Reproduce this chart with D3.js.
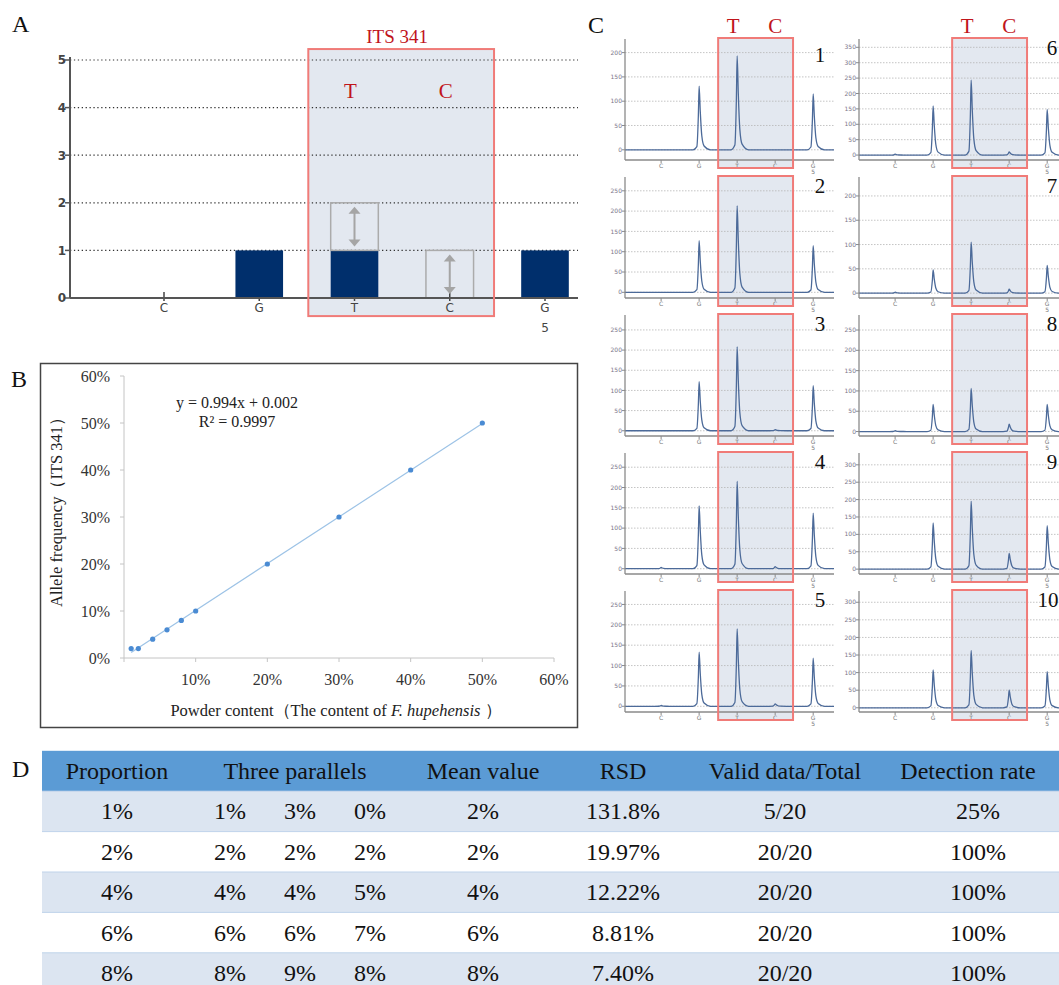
<!DOCTYPE html>
<html><head><meta charset="utf-8">
<script src="https://cdn.jsdelivr.net/npm/d3@7"></script>
<style>body{margin:0;background:#fff}svg{display:block}</style>
</head><body>
<svg id="c" width="1059" height="985"></svg>
<script>
// ---------- Panel A data ----------
const aBases = ["C","G","T","C","G"];
const aValues = [0,1,1,0,1];
const aExpected = [null,null,2,1,null];
const aTicks = [0,1,2,3,4,5];
const aPosLabel = "5";
const aRegion = "ITS 341";
const aAlleles = ["T","C"];
// ---------- Panel B data ----------
const bX = [0.01,0.02,0.04,0.06,0.08,0.10,0.20,0.30,0.40,0.50];
const bY = [0.02,0.02,0.04,0.06,0.08,0.10,0.20,0.30,0.40,0.50];
const bSlope = 0.994, bIntercept = 0.002;
const bXTicks = [0.1,0.2,0.3,0.4,0.5,0.6];
const bYTicks = [0,0.1,0.2,0.3,0.4,0.5,0.6];
const bEq1 = "y = 0.994x + 0.002";
const bEq2 = "R² = 0.9997";
// ---------- Panel C data ----------
const cBases = ["C","G","T","C","G"];
const cNames = ["1","2","3","4","5","6","7","8","9","10"];
const cPeaks = [
  [0,131,193,0,115],
  [0,127,213,0,115],
  [0,122,208,3,112],
  [3,155,215,5,137],
  [2,133,190,6,118],
  [3,160,243,10,148],
  [2,48,105,8,57],
  [2,67,106,18,67],
  [0,133,195,45,125],
  [0,108,163,50,103]
];
const cYMin = [-21,-14,-13,-13,-14,-16,-10,-11,-14,-12];
const cYMax = [228,284,287,285,283,377,239,287,334,332];
const cTickMax = [200,250,250,250,250,350,200,250,300,300];
// ---------- Panel D data ----------
const dHeaders = ["Proportion","Three parallels","Mean value","RSD","Valid data/Total","Detection rate"];
const dProportion = ["1%","2%","4%","6%","8%"];
const dParallels = [["1%","3%","0%"],["2%","2%","2%"],["4%","4%","5%"],["6%","6%","7%"],["8%","9%","8%"]];
const dMean = ["2%","2%","4%","6%","8%"];
const dRSD = ["131.8%","19.97%","12.22%","8.81%","7.40%"];
const dValid = ["5/20","20/20","20/20","20/20","20/20"];
const dDetect = ["25%","100%","100%","100%","100%"];

const SERIF = "'Liberation Serif','Times New Roman',serif";
const SANS = "'DejaVu Sans',Verdana,sans-serif";
const RED = "#C0141B", BOX = "#F07B78", HL = "#E3E8F0";
const svg = d3.select("#c");

function panelLabel(t,x,y){
  svg.append("text").attr("x",x).attr("y",y).attr("font-family",SERIF).attr("font-size",24).attr("fill","#111").text(t);
}

// ================= Panel A =================
(function(){
  const g = svg.append("g");
  const x = d3.scalePoint().domain(d3.range(aBases.length)).range([164,545]);
  const y = d3.scaleLinear().domain([0,5]).range([298,60]);
  const st = x.step(), bw = st*0.5;
  const x0 = 70, x1 = 578;
  const bxL = x(2)-st*0.485, bxR = x(3)+st*0.465, byT = y(5.23), byB = y(-0.38);
  g.append("rect").attr("x",bxL).attr("y",byT).attr("width",bxR-bxL).attr("height",byB-byT).attr("fill",HL);
  g.selectAll(".gr").data(aTicks.filter(d=>d>0)).join("line")
    .attr("x1",x0).attr("x2",x1).attr("y1",d=>y(d)).attr("y2",d=>y(d))
    .attr("stroke","#333").attr("stroke-width",1.2).attr("stroke-dasharray","1.3,2.6");
  g.selectAll(".xt").data(d3.range(aBases.length)).join("line")
    .attr("x1",d=>x(d)).attr("x2",d=>x(d)).attr("y1",y(0)-6).attr("y2",y(0)+3)
    .attr("stroke","#444").attr("stroke-width",1.5);
  g.selectAll(".bar").data(aValues.map((v,i)=>({v,i})).filter(d=>d.v>0)).join("rect")
    .attr("x",d=>x(d.i)-bw/2).attr("y",d=>y(d.v)).attr("width",bw).attr("height",d=>y(0)-y(d.v))
    .attr("fill","#002F6C");
  aExpected.forEach((e,i)=>{
    if(e===null) return;
    const v = aValues[i];
    g.append("rect").attr("x",x(i)-bw/2).attr("y",y(e)).attr("width",bw).attr("height",y(v)-y(e))
      .attr("fill","none").attr("stroke","#ababab").attr("stroke-width",1.5);
    const ya = y(e)+4, yb = y(v)-4, cx = x(i);
    g.append("line").attr("x1",cx).attr("x2",cx).attr("y1",ya+5).attr("y2",yb-5).attr("stroke","#a5a5a5").attr("stroke-width",2);
    g.append("path").attr("d",`M${cx},${ya} L${cx-6},${ya+7} L${cx+6},${ya+7}Z`).attr("fill","#a5a5a5");
    g.append("path").attr("d",`M${cx},${yb} L${cx-6},${yb-7} L${cx+6},${yb-7}Z`).attr("fill","#a5a5a5");
  });
  g.append("line").attr("x1",x0).attr("x2",x0).attr("y1",y(5)-3).attr("y2",y(0)).attr("stroke","#555").attr("stroke-width",2);
  g.append("line").attr("x1",x0).attr("x2",x1).attr("y1",y(0)).attr("y2",y(0)).attr("stroke","#555").attr("stroke-width",2);
  g.selectAll(".yt").data(aTicks).join("line").attr("x1",x0-5).attr("x2",x0).attr("y1",d=>y(d)).attr("y2",d=>y(d)).attr("stroke","#555").attr("stroke-width",1.5);
  g.selectAll(".yl").data(aTicks).join("text").attr("x",x0-4).attr("y",d=>y(d)).attr("dy","0.36em")
    .attr("text-anchor","end").attr("font-family",SANS).attr("font-size",12).attr("font-weight","bold").attr("fill","#444").text(d=>d);
  g.selectAll(".xl").data(aBases).join("text").attr("x",(d,i)=>x(i)).attr("y",312)
    .attr("text-anchor","middle").attr("font-family",SANS).attr("font-size",12).attr("fill","#444").text(d=>d);
  g.append("text").attr("x",x(4)).attr("y",332).attr("text-anchor","middle").attr("font-family",SANS).attr("font-size",12).attr("fill","#444").text(aPosLabel);
  g.append("rect").attr("x",bxL).attr("y",byT).attr("width",bxR-bxL).attr("height",byB-byT).attr("fill","none").attr("stroke",BOX).attr("stroke-width",2);
  g.append("text").attr("x",(bxL+bxR)/2-4).attr("y",43).attr("text-anchor","middle").attr("font-family",SERIF).attr("font-size",19).attr("fill",RED).text(aRegion);
  aAlleles.forEach((t,k)=>{
    g.append("text").attr("x",x(2+k)-4).attr("y",98).attr("text-anchor","middle").attr("font-family",SERIF).attr("font-size",21).attr("fill",RED).text(t);
  });
  panelLabel("A",12,32);
})();

// ================= Panel B =================
(function(){
  const g = svg.append("g");
  const x = d3.scaleLinear().domain([0,0.6]).range([124,554]);
  const y = d3.scaleLinear().domain([0,0.6]).range([658,376]);
  g.append("rect").attr("x",40.5).attr("y",363.5).attr("width",537).attr("height",364).attr("fill","none").attr("stroke","#444").attr("stroke-width",1.5);
  g.append("line").attr("x1",x(0)).attr("x2",x(0)).attr("y1",y(0.6)).attr("y2",y(0)).attr("stroke","#c4c4c4");
  g.append("line").attr("x1",x(0)).attr("x2",x(0.6)).attr("y1",y(0)).attr("y2",y(0)).attr("stroke","#c4c4c4");
  g.selectAll(".yt").data(bYTicks).join("line").attr("x1",x(0)-4).attr("x2",x(0)).attr("y1",d=>y(d)).attr("y2",d=>y(d)).attr("stroke","#c4c4c4");
  g.selectAll(".xt").data([0].concat(bXTicks)).join("line").attr("x1",d=>x(d)).attr("x2",d=>x(d)).attr("y1",y(0)).attr("y2",y(0)+4).attr("stroke","#c4c4c4");
  const pct = d3.format(".0%");
  g.selectAll(".yl").data(bYTicks).join("text").attr("x",x(0)-14).attr("y",d=>y(d)).attr("dy","0.35em")
    .attr("text-anchor","end").attr("font-family",SERIF).attr("font-size",16).attr("fill","#333").text(d=>pct(d));
  g.selectAll(".xl").data(bXTicks).join("text").attr("x",d=>x(d)).attr("y",685)
    .attr("text-anchor","middle").attr("font-family",SERIF).attr("font-size",16).attr("fill","#333").text(d=>pct(d));
  const tl = [bX[0], bX[bX.length-1]];
  g.append("path").attr("d",d3.line().x(d=>x(d)).y(d=>y(bSlope*d+bIntercept))(tl)).attr("stroke","#9DC3E6").attr("stroke-width",1.2).attr("fill","none");
  g.selectAll(".pt").data(bX.map((v,i)=>[v,bY[i]])).join("circle").attr("cx",d=>x(d[0])).attr("cy",d=>y(d[1])).attr("r",2.6).attr("fill","#4A8BD3");
  g.append("text").attr("x",237).attr("y",408).attr("text-anchor","middle").attr("font-family",SERIF).attr("font-size",16).attr("fill","#222").text(bEq1);
  g.append("text").attr("x",237).attr("y",427).attr("text-anchor","middle").attr("font-family",SERIF).attr("font-size",16).attr("fill","#222").text(bEq2);
  const xt = g.append("text").attr("x",336).attr("y",716).attr("text-anchor","middle").attr("font-family",SERIF).attr("font-size",16.5).attr("fill","#222");
  xt.append("tspan").text("Powder content（The  content of ");
  xt.append("tspan").attr("font-style","italic").text("F. hupehensis");
  xt.append("tspan").text(" ）");
  g.append("text").attr("transform","translate(62,508) rotate(-90)").attr("text-anchor","middle").attr("font-family",SERIF).attr("font-size",16.5).attr("fill","#222").text("Allele frequency（ITS 341）");
  panelLabel("B",11,387);
})();

// ================= Panel C =================
(function(){
  const g = svg.append("g");
  const axisX = [625, 859];
  const rightEnd = [834, 1062];
  const numX = [820, 1052];
  cPeaks.forEach((pk,p)=>{
    const col = Math.floor(p/5), row = p%5;
    const top = 39 + row*138, xa = top + 121;
    const ax = axisX[col];
    const x = d3.scaleLinear().domain([-0.95,4.6]).range([ax, ax+211]);
    const y = d3.scaleLinear().domain([cYMin[p], cYMax[p]]).range([xa, top]);
    const gp = g.append("g");
    const bL = x(1.5), bR = x(3.47), bT = top-1, bB = xa+8;
    gp.append("rect").attr("x",bL).attr("y",bT).attr("width",bR-bL).attr("height",bB-bT).attr("fill",HL);
    const ticks = d3.range(0, cTickMax[p]+1, 50);
    gp.selectAll(".gr").data(ticks).join("line").attr("x1",ax).attr("x2",rightEnd[col]).attr("y1",d=>y(d)).attr("y2",d=>y(d))
      .attr("stroke","#b5b5b5").attr("stroke-width",0.8).attr("stroke-dasharray","1.5,1.5");
    const pts = [[x.domain()[0],0]];
    pk.forEach((h,i)=>{
      if(h<=0) return;
      pts.push([i-0.16,0],[i-0.06,0.05*h],[i-0.02,0.55*h],[i,h],[i+0.03,0.6*h],[i+0.07,0.22*h],[i+0.13,0.06*h],[i+0.3,0]);
    });
    pts.push([x.invert(rightEnd[col]),0]);
    gp.append("path").attr("d",d3.line().x(d=>x(d[0])).y(d=>y(d[1])).curve(d3.curveMonotoneX)(pts))
      .attr("fill","none").attr("stroke","#4C6A99").attr("stroke-width",1.3);
    gp.append("line").attr("x1",ax).attr("x2",ax).attr("y1",top).attr("y2",xa).attr("stroke","#8a8a8a").attr("stroke-width",1.3);
    gp.append("line").attr("x1",ax).attr("x2",rightEnd[col]).attr("y1",xa).attr("y2",xa).attr("stroke","#8a8a8a").attr("stroke-width",1.3);
    gp.selectAll(".yt").data(ticks).join("line").attr("x1",ax-3).attr("x2",ax).attr("y1",d=>y(d)).attr("y2",d=>y(d)).attr("stroke","#8a8a8a");
    gp.selectAll(".yl").data(ticks).join("text").attr("x",ax-3).attr("y",d=>y(d)).attr("dy","0.35em").attr("text-anchor","end")
      .attr("font-family",SANS).attr("font-size",6).attr("fill","#7a7388").text(d=>d);
    gp.selectAll(".xt").data(cBases).join("line").attr("x1",(d,i)=>x(i)).attr("x2",(d,i)=>x(i)).attr("y1",xa).attr("y2",xa+3).attr("stroke","#8a8a8a");
    gp.selectAll(".xl").data(cBases).join("text").attr("x",(d,i)=>x(i)).attr("y",xa+8).attr("text-anchor","middle")
      .attr("font-family",SANS).attr("font-size",6).attr("fill","#777").text(d=>d);
    gp.append("text").attr("x",x(4)).attr("y",xa+14).attr("text-anchor","middle").attr("font-family",SANS).attr("font-size",6).attr("fill","#777").text("5");
    gp.append("rect").attr("x",bL).attr("y",bT).attr("width",bR-bL).attr("height",bB-bT).attr("fill","none").attr("stroke",BOX).attr("stroke-width",2);
    const nm = cNames[p];
    gp.append("text").attr("x",nm.length>1 ? 1048 : numX[col]).attr("y",p===0?62:top+16).attr("text-anchor","middle")
      .attr("font-family",SERIF).attr("font-size",21).attr("fill","#111").text(nm);
    if(row===0){
      ["T","C"].forEach((t,k)=>{
        g.append("text").attr("x",x(2+k)-(k?0:4)).attr("y",33).attr("text-anchor","middle").attr("font-family",SERIF).attr("font-size",21).attr("fill",RED).text(t);
      });
    }
  });
  panelLabel("C",588,33);
})();

// ================= Panel D =================
(function(){
  const g = svg.append("g");
  const left = 42, right = 1059, rh = 40.4, top = 750.8;
  const rowY = d3.scaleLinear().domain([0,1]).range([top, top+rh]);
  g.append("rect").attr("x",left).attr("y",top).attr("width",right-left).attr("height",rh).attr("fill","#5B9BD5");
  dProportion.forEach((d,i)=>{
    g.append("rect").attr("x",left).attr("y",rowY(i+1)).attr("width",right-left).attr("height",rh)
      .attr("fill", i%2===0 ? "#DCE5F1" : "#FFFFFF");
    g.append("line").attr("x1",left).attr("x2",right).attr("y1",rowY(i+1)).attr("y2",rowY(i+1)).attr("stroke","#BFD3EA").attr("stroke-width",1);
  });
  const hx = [117,295,483,623,785,968];
  const tx = (s,xx,yy)=>g.append("text").attr("x",xx).attr("y",yy).attr("text-anchor","middle").attr("font-family",SERIF).attr("font-size",24).attr("fill","#111").text(s);
  dHeaders.forEach((h,i)=>tx(h,hx[i],rowY(0.5)+8));
  const px = [230,300,370];
  dProportion.forEach((d,i)=>{
    const yy = rowY(i+1.5)+8;
    tx(d,117,yy);
    dParallels[i].forEach((v,k)=>tx(v,px[k],yy));
    tx(dMean[i],483,yy);
    tx(dRSD[i],623,yy);
    tx(dValid[i],785,yy);
    tx(dDetect[i],978,yy);
  });
  panelLabel("D",12,777);
})();
</script>
</body></html>
